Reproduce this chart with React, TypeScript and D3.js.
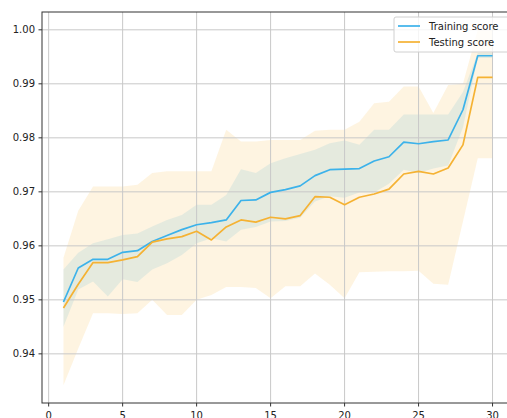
import React from "react";
import * as d3 from "d3";

const sizes = [1,2,3,4,5,6,7,8,9,10,11,12,13,14,15,16,17,18,19,20,21,22,23,24,25,26,27,28,29,30];

const trainMean = [0.9496,0.9559,0.9575,0.9575,0.9588,0.9591,0.9608,0.9619,0.9630,0.9639,0.9643,0.9648,0.9684,0.9685,0.9699,0.9704,0.9711,0.9730,0.9741,0.9742,0.9743,0.9757,0.9765,0.9792,0.9789,0.9793,0.9796,0.9852,0.9952,0.9952];
const trainUpper = [0.9556,0.9587,0.9605,0.9612,0.9620,0.9623,0.9636,0.9648,0.9657,0.9676,0.9676,0.9694,0.9742,0.9735,0.9753,0.9762,0.9770,0.9778,0.9790,0.9795,0.9787,0.9815,0.9815,0.9843,0.9843,0.9843,0.9843,0.9885,0.9957,0.9957];
const trainLower = [0.9450,0.9519,0.9534,0.9506,0.9538,0.9533,0.9556,0.9568,0.9583,0.9605,0.9614,0.9608,0.9630,0.9635,0.9645,0.9646,0.9652,0.9682,0.9692,0.9689,0.9699,0.9699,0.9715,0.9741,0.9735,0.9743,0.9749,0.9819,0.9948,0.9948];

const testMean = [0.9485,0.9529,0.9569,0.9569,0.9574,0.9580,0.9607,0.9613,0.9617,0.9627,0.9611,0.9635,0.9648,0.9644,0.9653,0.9650,0.9656,0.9691,0.9690,0.9676,0.9690,0.9696,0.9705,0.9733,0.9738,0.9733,0.9744,0.9787,0.9912,0.9912];
const testUpper = [0.9578,0.9665,0.9710,0.9710,0.9710,0.9713,0.9735,0.9738,0.9738,0.9738,0.9738,0.9815,0.9793,0.9793,0.9796,0.9796,0.9796,0.9813,0.9815,0.9815,0.9830,0.9864,0.9867,0.9895,0.9895,0.9846,0.9898,0.9900,1.0000,1.0000];
const testLower = [0.9342,0.9410,0.9475,0.9475,0.9474,0.9475,0.9500,0.9472,0.9472,0.9500,0.9509,0.9524,0.9524,0.9522,0.9503,0.9525,0.9525,0.9549,0.9528,0.9503,0.9551,0.9552,0.9553,0.9553,0.9554,0.9530,0.9528,0.9645,0.9762,0.9762];

const xTicks = [0, 5, 10, 15, 20, 25, 30];
const yTicks = [0.94, 0.95, 0.96, 0.97, 0.98, 0.99, 1.0];
const seriesNames = ["Training score", "Testing score"];

const BLUE = "#3cb2ea";
const ORANGE = "#f5b233";
const FONT = "DejaVu Sans, sans-serif";

export default function App() {
  const W = 507, H = 418;
  const left = 42, right = 514, top = 12, bottom = 403;
  const x = d3.scaleLinear().domain([-0.45, 31.45]).range([left, right]);
  const y = d3.scaleLinear().domain([0.9309, 1.0033]).range([bottom, top]);

  const area = (lo: number[], hi: number[]) =>
    d3.area<number>()
      .x((_, i) => x(sizes[i]))
      .y0((_, i) => y(lo[i]))
      .y1((_, i) => y(hi[i]))(sizes) || "";
  const line = (vals: number[]) =>
    d3.line<number>()
      .x((_, i) => x(sizes[i]))
      .y((_, i) => y(vals[i]))(sizes) || "";

  return (
    <svg width={W} height={H} style={{ position: "absolute", left: 0, top: 0, background: "#fff" }}
      fontFamily={FONT}>
      <rect x={0} y={0} width={W} height={H} fill="#fff" />
      <path d={area(trainLower, trainUpper)} fill={BLUE} fillOpacity={0.15} />
      <path d={area(testLower, testUpper)} fill={ORANGE} fillOpacity={0.15} />
      {xTicks.map(t => (
        <line key={"gx" + t} x1={x(t)} x2={x(t)} y1={top} y2={bottom} stroke="#c8c8c8" strokeWidth={1} />
      ))}
      {yTicks.map(t => (
        <line key={"gy" + t} x1={left} x2={right} y1={y(t)} y2={y(t)} stroke="#c8c8c8" strokeWidth={1} />
      ))}
      <path d={line(trainMean)} fill="none" stroke={BLUE} strokeWidth={1.7} strokeLinejoin="round" />
      <path d={line(testMean)} fill="none" stroke={ORANGE} strokeWidth={1.7} strokeLinejoin="round" />
      <rect x={left} y={top} width={right - left} height={bottom - top} fill="none" stroke="#333" strokeWidth={1} />
      {xTicks.map(t => (
        <g key={"tx" + t}>
          <line x1={x(t)} x2={x(t)} y1={bottom} y2={bottom + 3.5} stroke="#333" />
          <text x={x(t)} y={bottom + 16} textAnchor="middle" fontSize={10} fill="#222">{t}</text>
        </g>
      ))}
      {yTicks.map(t => (
        <g key={"ty" + t}>
          <line x1={left - 3.5} x2={left} y1={y(t)} y2={y(t)} stroke="#333" />
          <text x={left - 7} y={y(t)} dy="0.35em" textAnchor="end" fontSize={10} fill="#222">{t.toFixed(2)}</text>
        </g>
      ))}
      <g>
        <rect x={394} y={17} width={118} height={35} rx={2} fill="#fff" fillOpacity={0.8} stroke="#d0d0d0" />
        {seriesNames.map((name, i) => (
          <g key={name}>
            <line x1={398} x2={420} y1={26 + i * 16} y2={26 + i * 16} stroke={i === 0 ? BLUE : ORANGE} strokeWidth={1.7} />
            <text x={429} y={26 + i * 16} dy="0.35em" fontSize={10} fill="#222">{name}</text>
          </g>
        ))}
      </g>
    </svg>
  );
}
